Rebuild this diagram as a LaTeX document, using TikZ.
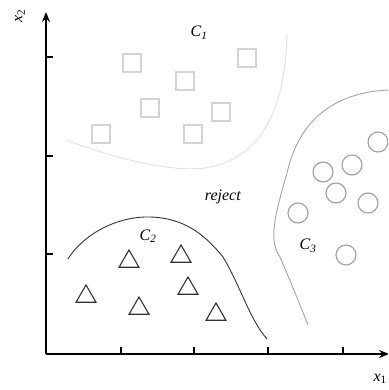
\documentclass[tikz,border=0pt]{standalone}
\usepackage{fontspec}
\setmainfont{Liberation Serif}
\usetikzlibrary{arrows.meta,shapes.geometric}

\newcommand{\cls}[1]{\textit{C}\textsubscript{\textit{#1}}}

\begin{document}
\begin{tikzpicture}[x=1pt,y=-1pt,>={Stealth[length=10pt,width=8pt]},
  every node/.style={font=\fontsize{16}{18}\selectfont},
  axis/.style={line width=1.6pt},
  tick/.style={line width=1.2pt},
  sq/.style={draw=black!17,line width=1.2pt,minimum size=18pt,inner sep=0pt},
  tri/.style={draw=black!80,line width=1.1pt,regular polygon,regular polygon sides=3,
    minimum size=23pt,inner sep=0pt},
  circ/.style={draw=black!38,line width=1.1pt,circle,minimum size=20pt,inner sep=0pt},
  bound/.style={line width=0.9pt},
  lab/.style={inner sep=1pt}]
\useasboundingbox (0,0) rectangle (388,390);
\clip (0,0) rectangle (388,390);
% axes
\coordinate (o) at (46,354);
\coordinate (ytip) at (46,12);
\coordinate (xtip) at (389,354);
\draw[axis,->] (o) -- (ytip);
\draw[axis,->] (o) -- (xtip);
\foreach \ty in {57,156,254} \draw[tick] (46,\ty) -- ++(7,0);
\foreach \tx in {121,194,268,343} \draw[tick] (\tx,354) -- ++(0,-7);
\node[lab,rotate=90] (xtwo) at (20,16) {\textit{x}\textsubscript{2}};
\node[lab,anchor=east] (xone) at (388,379) {\textit{x}\textsubscript{1}};
% class C1
\draw[bound,black!12] (66,140) .. controls (120,160) and (170,172) .. (205,168)
  .. controls (255,160) and (285,120) .. (287,33);
\foreach \px/\py [count=\i] in {132/63,185/81,150/108,101/134,193/134,221/112,247/58}
  \node[sq] (s\i) at (\px,\py) {};
\node[lab] (c1) at (199,33) {\cls{1}};
% class C2
\draw[bound,black!80] (68,259) .. controls (85,232) and (120,216) .. (150,217)
  .. controls (185,218) and (205,235) .. (223,257)
  .. controls (240,285) and (250,320) .. (267,339);
\foreach \px/\py [count=\i] in {86/296.5,129/261.5,139/308.5,181/256.5,188/288.5,216/314.5}
  \node[tri] (t\i) at (\px,\py) {};
\node[lab] (c2) at (148,236) {\cls{2}};
% class C3
\draw[bound,black!36] (389,90) .. controls (340,92) and (300,115) .. (287,173)
  .. controls (275,215) and (268,240) .. (280,257)
  .. controls (290,280) and (300,305) .. (308,325);
\foreach \px/\py [count=\i] in {378/142,352/165,323/172,336/193,368/203,298/213,346/255}
  \node[circ] (k\i) at (\px,\py) {};
\node[lab] (c3) at (308,246) {\cls{3}};
% reject region
\node[lab] (rej) at (223,197) {\textit{reject}};
\end{tikzpicture}
\end{document}
